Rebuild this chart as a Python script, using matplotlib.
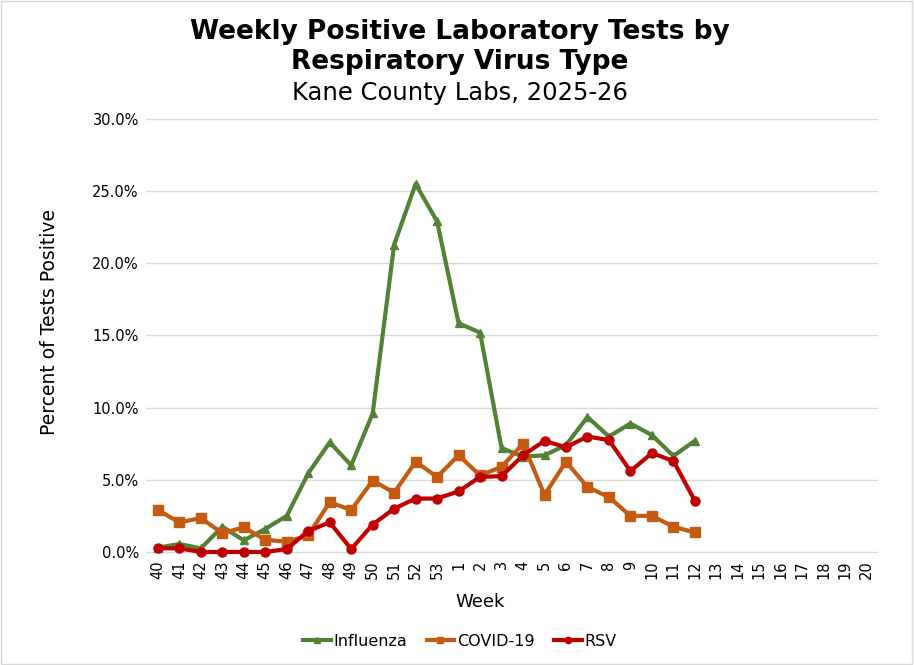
import numpy as np
import matplotlib.pyplot as plt
from matplotlib.patches import Rectangle

plt.rcParams['font.family'] = ['DejaVu Sans']

# Semanas de la temporada 2025-26
weeks = [str(w) for w in list(range(40, 54)) + list(range(1, 21))]

# Porcentaje de pruebas positivas
influenza = [0.3, 0.55, 0.25, 1.75, 0.8, 1.6, 2.5, 5.45, 7.6, 6.0, 9.6, 21.3, 25.5, 22.9,
             15.85, 15.2, 7.2, 6.6, 6.7, 7.4, 9.35, 8.0, 8.9, 8.1, 6.65, 7.7]
covid = [2.9, 2.05, 2.35, 1.3, 1.7, 0.85, 0.7, 1.15, 3.45, 2.9, 4.95, 4.1, 6.25, 5.2,
         6.7, 5.3, 5.9, 7.5, 3.95, 6.25, 4.5, 3.8, 2.5, 2.5, 1.75, 1.35]
rsv = [0.25, 0.25, 0.0, 0.0, 0.0, 0.0, 0.2, 1.45, 2.05, 0.2, 1.9, 3.0, 3.7, 3.7,
       4.2, 5.2, 5.25, 6.7, 7.7, 7.25, 8.0, 7.75, 5.6, 6.85, 6.3, 3.55]

fig = plt.figure(figsize=(9.14, 6.65), dpi=100)
ax = fig.add_axes([0.161, 0.17, 0.799, 0.651])

x = np.arange(len(influenza))
ax.plot(x, influenza, color='#548235', lw=3, marker='^', ms=5.5, label='Influenza', clip_on=False)
ax.plot(x, covid, color='#C55A11', lw=3, marker='s', ms=6.5, label='COVID-19', clip_on=False)
ax.plot(x, rsv, color='#C00000', lw=3, marker='o', ms=6.5, label='RSV', clip_on=False)

ax.set_xlim(-0.5, len(weeks) - 0.5)
ax.set_ylim(0, 30)
ax.set_xticks(np.arange(len(weeks)))
ax.set_xticklabels(weeks, rotation=90, fontsize=10.5)
ax.set_yticks(np.arange(0, 31, 5))
ax.set_yticklabels([f'{v:.1f}%' for v in range(0, 31, 5)], fontsize=10.5)
ax.tick_params(length=0, pad=6)
ax.grid(axis='y', color='#D9D9D9', lw=1, clip_on=False)
ax.set_axisbelow(True)
for s in ax.spines.values():
    s.set_visible(False)

fig.text(480 / 914, 1 - 602 / 665, 'Week', ha='center', va='center', fontsize=13)
fig.text(50 / 914, 1 - 322 / 665, 'Percent of Tests Positive', ha='center', va='center',
         rotation=90, fontsize=13.5)

fig.text(0.503, 0.952, 'Weekly Positive Laboratory Tests by', ha='center', va='center',
         fontsize=19, fontweight='bold')
fig.text(0.503, 0.907, 'Respiratory Virus Type', ha='center', va='center',
         fontsize=19, fontweight='bold')
fig.text(0.503, 0.86, 'Kane County Labs, 2025-26', ha='center', va='center', fontsize=17.5)

ax.legend(loc='center', bbox_to_anchor=(0.503, 0.036), bbox_transform=fig.transFigure,
          ncol=3, frameon=False, fontsize=11.5, handlelength=1.75, handletextpad=0.15,
          columnspacing=1.2, markerscale=0.7)

fig.patches.append(Rectangle((0.001, 0.001), 0.997, 0.997, transform=fig.transFigure,
                             fill=False, edgecolor='#D9D9D9', lw=1))

fig.savefig('out.png', dpi=100)
